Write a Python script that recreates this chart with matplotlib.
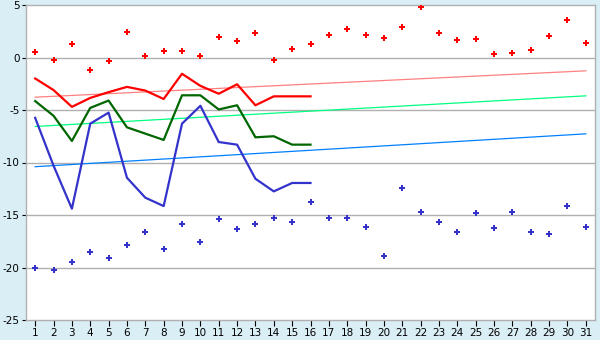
import matplotlib
matplotlib.use("Agg")
import matplotlib.pyplot as plt
import numpy as np

plt.rcParams["axes.unicode_minus"] = False

days = list(range(1, 32))
red_pts = [0.5, -0.2, 1.3, -1.2, -0.3, 2.45, 0.1, 0.65, 0.65, 0.1, 2.0, 1.6, 2.35, -0.2, 0.85,
           1.3, 2.15, 2.7, 2.15, 1.9, 2.9, 4.8, 2.35, 1.7, 1.8, 0.35, 0.45, 0.75, 2.05, 3.6, 1.4]
blue_pts = [-20.0, -20.2, -19.45, -18.5, -19.1, -17.9, -16.6, -18.2, -15.85, -17.6, -15.4, -16.3,
            -15.9, -15.3, -15.7, -13.8, -15.3, -15.3, -16.1, -18.9, -12.4, -14.7, -15.7, -16.6,
            -14.8, -16.2, -14.7, -16.6, -16.8, -14.1, -16.1]
line_days = list(range(1, 17))
red_line = [-2.0, -3.1, -4.7, -3.85, -3.3, -2.8, -3.15, -3.95, -1.55, -2.7, -3.45, -2.55,
            -4.55, -3.7, -3.7, -3.7]
green_line = [-4.15, -5.55, -7.95, -4.8, -4.1, -6.65, -7.25, -7.85, -3.6, -3.6, -4.95, -4.55,
              -7.6, -7.5, -8.3, -8.3]
blue_line = [-5.75, -10.3, -14.4, -6.3, -5.25, -11.45, -13.35, -14.15, -6.3, -4.6, -8.05, -8.3,
             -11.55, -12.75, -11.95, -11.95]
trend_days = [1, 31]
trend_red = [-3.78, -1.27]
trend_green = [-6.57, -3.65]
trend_blue = [-10.4, -7.27]
y_ticks = [-25, -20, -15, -10, -5, 0, 5]

bg = "#DAEEF6"
grid = "#B0B0B0"

fig = plt.figure(figsize=(6, 3.4), dpi=100, facecolor=bg)
ax = fig.add_axes([26/600, 20/340, (595-26)/600, (320-5)/340])
ax.set_facecolor("white")

for y in y_ticks[1:-1]:
    ax.axhline(y, color=grid, lw=1.0, zorder=0)

ax.plot(trend_days, trend_red, color="#FF8080", lw=0.9, zorder=2)
ax.plot(trend_days, trend_green, color="#00FF80", lw=0.9, zorder=2)
ax.plot(trend_days, trend_blue, color="#0080FF", lw=0.9, zorder=2)

ax.plot(line_days, red_line, color="#FF0000", lw=1.6, zorder=3)
ax.plot(line_days, green_line, color="#006600", lw=1.6, zorder=3)
ax.plot(line_days, blue_line, color="#3333CC", lw=1.6, zorder=3)

ax.plot(days, red_pts, ls="none", marker="P", ms=4.5, color="#FF0000", mew=0, zorder=4)
ax.plot(days, blue_pts, ls="none", marker="P", ms=4.5, color="#3333CC", mew=0, zorder=4)

ax.set_xlim(0.5, 31.5)
ax.set_ylim(-25, 5)
ax.set_xticks(days)
ax.set_yticks(y_ticks)
ax.set_xticklabels([str(d) for d in days])
ax.set_yticklabels([str(v) for v in y_ticks])
ax.tick_params(axis="both", colors="black", labelcolor="black", labelsize=7.5, width=0.8)
ax.tick_params(axis="y", length=3, pad=1.5)
ax.tick_params(axis="x", length=4, pad=2)
for s in ax.spines.values():
    s.set_color(grid)
    s.set_linewidth(1.0)

fig.savefig("out.png", dpi=100, facecolor=bg)
